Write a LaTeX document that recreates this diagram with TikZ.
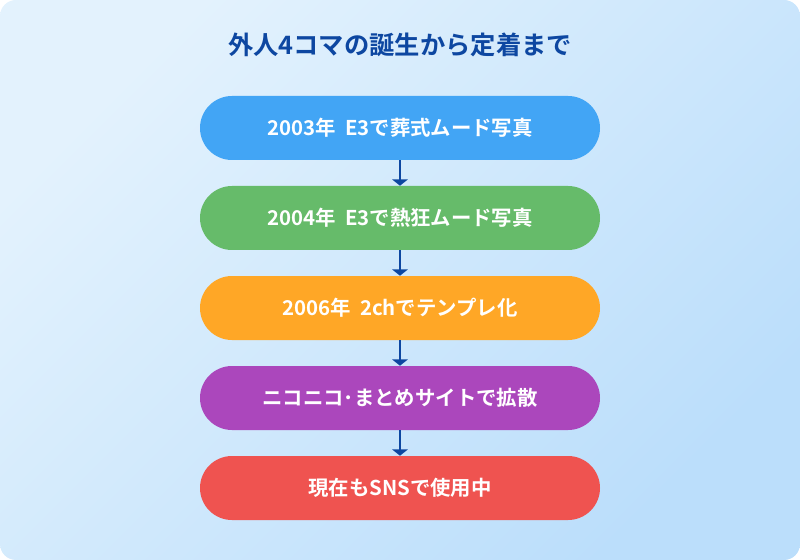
\documentclass[tikz,border=0pt]{standalone}
\usepackage{fontspec}
\setmainfont{Noto Sans CJK JP}[BoldFont={* Bold}]
\usetikzlibrary{positioning, arrows.meta}
\definecolor{bgA}{HTML}{E3F2FD}
\definecolor{bgB}{HTML}{BBDEFB}
\definecolor{titleblue}{HTML}{0D47A1}
\definecolor{stepblue}{HTML}{42A5F5}
\definecolor{stepgreen}{HTML}{66BB6A}
\definecolor{steporange}{HTML}{FFA726}
\definecolor{steppurple}{HTML}{AB47BC}
\definecolor{stepred}{HTML}{EF5350}

\tikzset{
    pill/.style={rounded corners=0.8cm, minimum width=10cm, minimum height=1.6cm,
        text=white, font=\bfseries\fontsize{14.5}{17}\selectfont, inner sep=0pt},
    flow/.style={draw=titleblue, line width=2pt, -{Triangle[width=11pt, length=4.5pt]}}
}

\begin{document}
\begin{tikzpicture}[node distance=0.636cm]
        % Background
        \useasboundingbox (0,0) rectangle (20,14);
        \shade[rounded corners=0.4cm, left color=bgA, right color=bgB, shading angle=45]
            (0,0) rectangle (20,14);

        % Title
        \node[text=titleblue, font=\bfseries\fontsize{18}{21}\selectfont] (title) at (10,12.88)
            {外人4コマの誕生から定着まで};

        % Draw the steps
        \node[pill, fill=stepblue]   (s03) at (10,10.8) {2003年\ \ E3で葬式ムード写真};
        \node[pill, fill=stepgreen,  below=of s03] (s04) {2004年\ \ E3で熱狂ムード写真};
        \node[pill, fill=steporange, below=of s04] (s06) {2006年\ \ 2chでテンプレ化};
        \node[pill, fill=steppurple, below=of s06] (nico) {ニコニコ･まとめサイトで拡散};
        \node[pill, fill=stepred,    below=of nico] (now) {現在もSNSで使用中};

        % Connect the steps
        \draw[flow] (s03) -- (s04);
        \draw[flow] (s04) -- (s06);
        \draw[flow] (s06) -- (nico);
        \draw[flow] (nico) -- (now);
\end{tikzpicture}
\end{document}
